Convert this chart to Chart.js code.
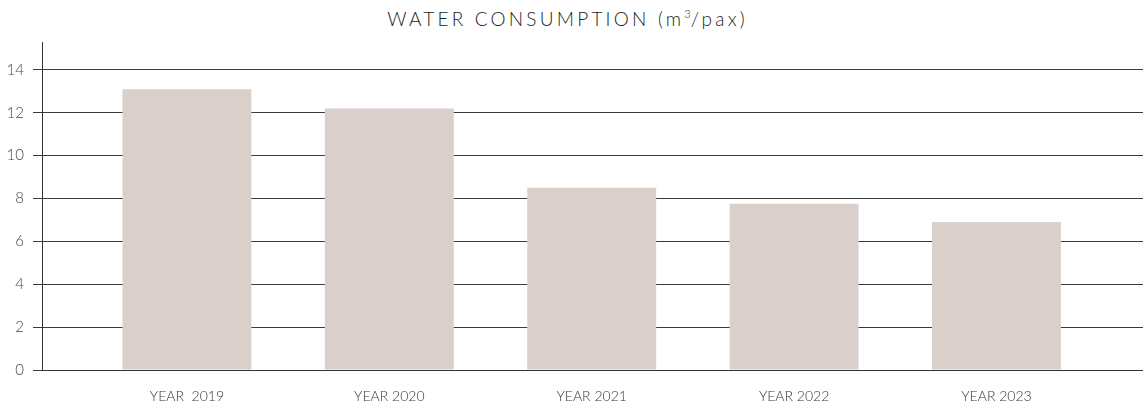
<!DOCTYPE html>
<html>
<head>
<meta charset="utf-8">
<script src="https://cdn.jsdelivr.net/npm/chart.js@4/dist/chart.umd.min.js"></script>
<style>
  html, body { margin: 0; padding: 0; background: #fff; }
  #wrap { position: relative; width: 1143px; height: 405px; }
  #title { position: absolute; top: 7px; left: 0; width: 1135px; text-align: center;
           font-family: "Lato", "Open Sans", sans-serif; font-size: 19px; letter-spacing: 3.2px;
           color: #222; font-weight: 300; white-space: nowrap; }
  #title sup { font-size: 11px; letter-spacing: 0; vertical-align: 8px; }
  canvas { position: absolute; top: 0; left: 0; }
</style>
</head>
<body>
<div id="wrap">
  <div id="title">WATER CONSUMPTION (m<sup>3</sup>/pax)</div>
  <canvas id="c" width="1143" height="405"></canvas>
</div>
<script>
const categories = ["YEAR  2019", "YEAR 2020", "YEAR 2021", "YEAR 2022", "YEAR 2023"];
const waterConsumption = [13.1, 12.2, 8.5, 7.75, 6.9];
const yTicks = [0, 2, 4, 6, 8, 10, 12, 14];

const ctx = document.getElementById('c').getContext('2d');
new Chart(ctx, {
  type: 'bar',
  data: {
    datasets: [{
      data: waterConsumption.map((v, i) => ({ x: i, y: v })),
      backgroundColor: '#d9d0cb',
      borderWidth: 0,
      categoryPercentage: 1,
      barPercentage: 0.637
    }]
  },
  options: {
    responsive: false,
    animation: false,
    layout: { padding: { top: 42, right: 0, left: 0, bottom: 0 } },
    plugins: { legend: { display: false }, tooltip: { enabled: false } },
    scales: {
      x: {
        type: 'linear',
        offset: false,
        min: -0.716,
        max: 4.724,
        grid: { display: false },
        border: { display: true, color: '#333', width: 1 },
        afterBuildTicks: (s) => { s.ticks = categories.map((c, i) => ({ value: i })); },
        afterFit: (s) => { s.height = 35; },
        ticks: {
          autoSkip: false,
          maxRotation: 0,
          padding: 10,
          color: '#333',
          font: { family: 'Lato, "Open Sans", sans-serif', size: 14, weight: 300 },
          callback: (v) => categories[v]
        }
      },
      y: {
        min: 0,
        max: 15.3,
        afterBuildTicks: (s) => { s.ticks = yTicks.map(v => ({ value: v })); },
        afterFit: (s) => { s.width = 42; },
        grid: { color: '#3a3a3a', lineWidth: 1, drawTicks: true, tickLength: 9 },
        border: { display: true, color: '#333', width: 1 },
        ticks: {
          padding: 9,
          color: '#444',
          font: { family: 'Lato, "Open Sans", sans-serif', size: 15, weight: 300 }
        }
      }
    }
  }
});
</script>
</body>
</html>
